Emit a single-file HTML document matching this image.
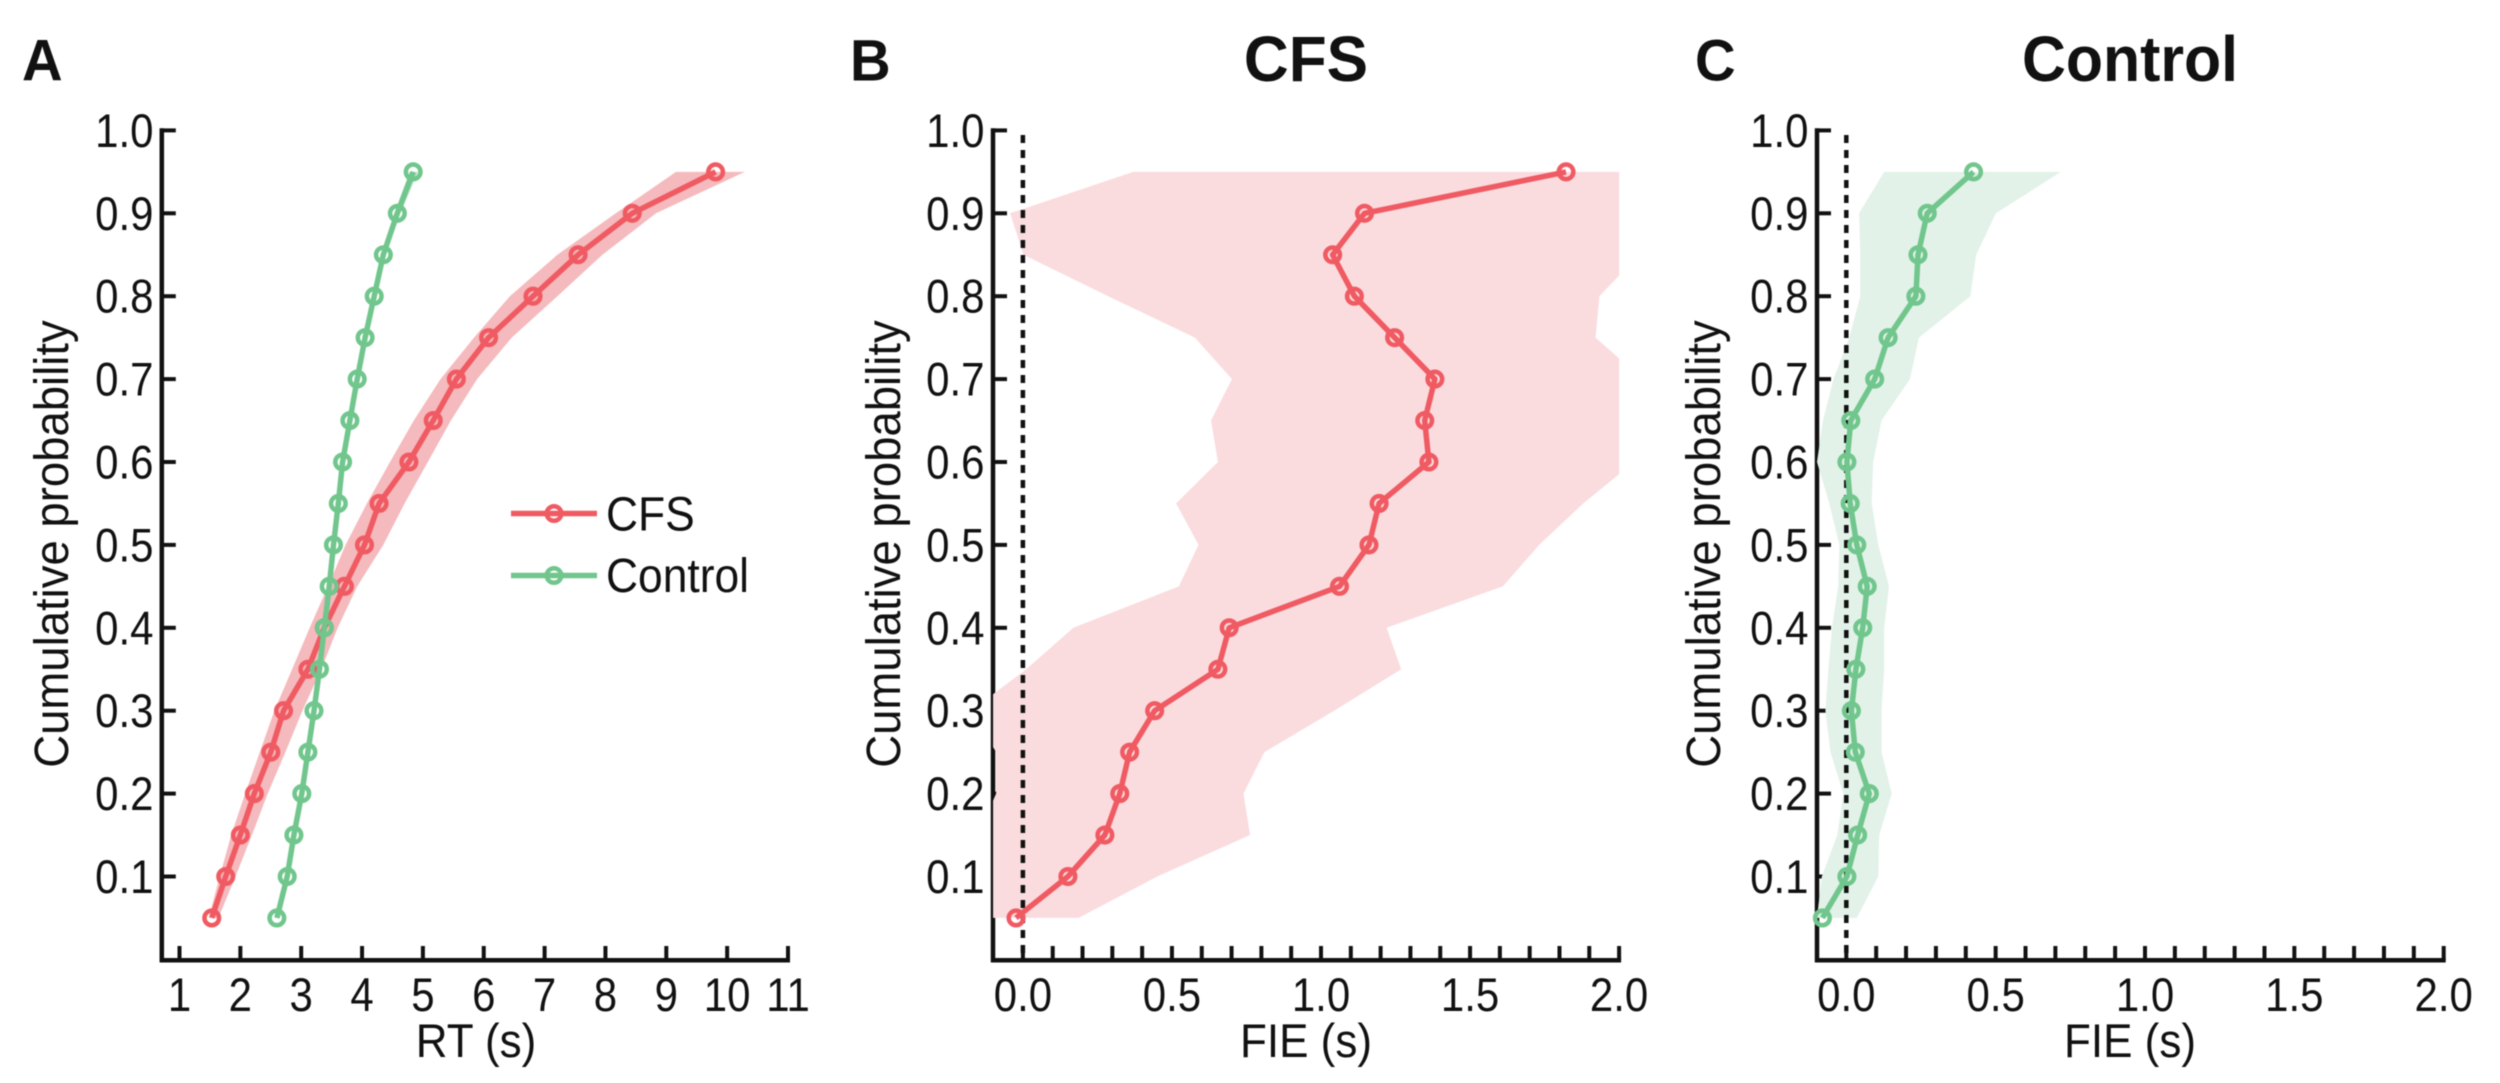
<!DOCTYPE html>
<html lang="en">
<head>
<meta charset="utf-8">
<title>Cumulative probability of RT and FIE</title>
<style>
html,body{margin:0;padding:0;background:#fff;width:2500px;height:1083px;overflow:hidden}
svg{display:block;filter:blur(0.6px)}
text{font-family:"Liberation Sans",sans-serif;fill:#111}
</style>
</head>
<body>
<svg id="figure" xmlns="http://www.w3.org/2000/svg" width="2500" height="1083" viewBox="0 0 2500 1083">
  <rect x="0" y="0" width="2500" height="1083" fill="#fff"/>
  <g font-size="58">
    <text transform="translate(22,80.4) scale(0.97,1)" style="font-weight:700">A</text>
    <text transform="translate(850,80.4) scale(0.97,1)" style="font-weight:700">B</text>
    <text transform="translate(1695,80.4) scale(0.97,1)" style="font-weight:700">C</text>
  </g>
  <text transform="translate(1306,81) scale(0.97,1)" text-anchor="middle" font-size="64" style="font-weight:700">CFS</text>
  <text transform="translate(2130,81) scale(0.95,1)" text-anchor="middle" font-size="64" style="font-weight:700">Control</text>

  <text transform="translate(68,544) rotate(-90) scale(0.948,1)" text-anchor="middle" font-size="48">Cumulative probability</text>
  <text transform="translate(900,544) rotate(-90) scale(0.948,1)" text-anchor="middle" font-size="48">Cumulative probability</text>
  <text transform="translate(1720,544) rotate(-90) scale(0.948,1)" text-anchor="middle" font-size="48">Cumulative probability</text>

  <text transform="translate(476,1057) scale(0.936,1)" text-anchor="middle" font-size="47">RT (s)</text>
  <text transform="translate(1306,1057) scale(0.936,1)" text-anchor="middle" font-size="47">FIE (s)</text>
  <text transform="translate(2130,1057) scale(0.936,1)" text-anchor="middle" font-size="47">FIE (s)</text>

  <g id="panel-a"></g>
  <g id="panel-b"></g>
  <g id="panel-c"></g>

  <g>
    <g>
      <line x1="511" y1="513.5" x2="597" y2="513.5" stroke="#f05a62" stroke-width="5.5"/>
      <circle cx="554" cy="513.5" r="7.3" fill="none" stroke="#f05a62" stroke-width="4.5"/>
      <text transform="translate(606,530.5) scale(0.915,1)" font-size="48.5">CFS</text>
    </g>
    <g>
      <line x1="511" y1="575.5" x2="597" y2="575.5" stroke="#70c68c" stroke-width="5.5"/>
      <circle cx="554" cy="575.5" r="7.3" fill="none" stroke="#70c68c" stroke-width="4.5"/>
      <text transform="translate(606,592) scale(0.915,1)" font-size="48.5">Control</text>
    </g>
  </g>
</svg>
<script>
// ---- Shared data ----
var probLevels = [0.05,0.10,0.15,0.20,0.25,0.30,0.35,0.40,0.45,0.50,0.55,0.60,0.65,0.70,0.75,0.80,0.85,0.90,0.95];
var yTickValues = [0.1,0.2,0.3,0.4,0.5,0.6,0.7,0.8,0.9,1.0];
var yTickLabels = ["0.1","0.2","0.3","0.4","0.5","0.6","0.7","0.8","0.9","1.0"];

// ---- Panel A: RT (s) ----
var rtTickValues = [1,2,3,4,5,6,7,8,9,10,11];
var rtTickLabels = ["1","2","3","4","5","6","7","8","9","10","11"];
var rtCfs        = [1.53,1.76,2.00,2.23,2.50,2.71,3.11,3.38,3.71,4.04,4.28,4.77,5.17,5.55,6.08,6.81,7.55,8.44,9.81];
var rtCfsLow     = [1.48,1.66,1.85,2.08,2.32,2.56,2.85,3.14,3.44,3.73,4.08,4.46,4.85,5.29,5.84,6.43,7.21,8.17,9.16];
var rtCfsHigh    = [1.64,1.92,2.19,2.45,2.74,3.02,3.33,3.60,3.92,4.35,4.70,5.08,5.46,5.89,6.46,7.21,7.95,8.83,10.29];
var rtControl     = [2.60,2.77,2.88,3.01,3.11,3.21,3.30,3.38,3.46,3.53,3.61,3.68,3.80,3.92,4.05,4.20,4.35,4.58,4.84];
var rtControlLow  = [2.57,2.73,2.84,2.97,3.07,3.17,3.26,3.34,3.42,3.49,3.57,3.64,3.76,3.88,4.01,4.16,4.31,4.53,4.78];
var rtControlHigh = [2.63,2.81,2.92,3.05,3.15,3.25,3.34,3.42,3.50,3.57,3.65,3.72,3.84,3.96,4.09,4.24,4.39,4.63,4.92];

// ---- Panels B and C: FIE (s) ----
var fieTickValues = [0,0.1,0.2,0.3,0.4,0.5,0.6,0.7,0.8,0.9,1.0,1.1,1.2,1.3,1.4,1.5,1.6,1.7,1.8,1.9,2.0];
var fieLabelValues = [0,0.5,1.0,1.5,2.0];
var fieLabels = ["0.0","0.5","1.0","1.5","2.0"];

var fieCfs     = [-0.023,0.151,0.275,0.325,0.358,0.442,0.654,0.692,1.062,1.161,1.195,1.362,1.348,1.382,1.247,1.112,1.039,1.146,1.822];
var fieCfsLow  = [-0.15,-0.15,-0.15,-0.09,-0.09,-0.174,0.011,0.169,0.523,0.589,0.514,0.654,0.631,0.701,0.577,0.286,0.002,-0.043,0.370];
var fieCfsHigh = [0.187,0.451,0.762,0.740,0.810,1.044,1.269,1.220,1.610,1.732,1.880,2.050,2.300,2.079,1.921,1.934,2.066,2.200,2.600];

var fieControl     = [-0.080,0.002,0.038,0.077,0.030,0.017,0.032,0.055,0.070,0.035,0.013,0.002,0.015,0.095,0.140,0.233,0.240,0.271,0.426];
var fieControlLow  = [-0.098,-0.082,-0.030,-0.010,-0.053,-0.070,-0.060,-0.048,-0.027,-0.023,-0.057,-0.098,-0.078,-0.043,0.010,0.047,0.047,0.043,0.127];
var fieControlHigh = [0.035,0.107,0.110,0.152,0.118,0.118,0.127,0.127,0.143,0.107,0.085,0.090,0.118,0.213,0.243,0.415,0.435,0.501,0.718];

// ---- Drawing helpers ----
var SVG_NS = "http://www.w3.org/2000/svg";
var RED = "#f05a62", GREEN = "#70c68c", INK = "#111";

function yScale(p) { return 130.4 + (1 - p) * 829; }
function linearX(origin, value0, perUnit) {
  return function (v) { return origin + (v - value0) * perUnit; };
}
function make(tag, attrs, parent) {
  var node = document.createElementNS(SVG_NS, tag);
  for (var k in attrs) node.setAttribute(k, attrs[k]);
  parent.appendChild(node);
  return node;
}
function drawAxes(parent, prefix, cfg, xScale, xTicks, xLabelValues, xLabels) {
  var g = make("g", {}, parent);
  
  
  var yLine = make("line", {x1: cfg.axisX, y1: 128.2, x2: cfg.axisX, y2: 962.2, stroke: INK, "stroke-width": 4.5}, g);
  
  
  var xLine = make("line", {x1: cfg.axisX - 2, y1: 960.2, x2: xScale(xTicks[xTicks.length - 1]) + 2, y2: 960.2, stroke: INK, "stroke-width": 4.5}, g);
  
  
  yTickValues.forEach(function (v, i) {
    var y = yScale(v);
    var tick = make("line", {x1: cfg.axisX, y1: y, x2: cfg.axisX + 14, y2: y, stroke: INK, "stroke-width": 4}, g);
    
    
    var label = make("text", {transform: "translate(" + cfg.labelRight + "," + (y + 16.5) + ") scale(0.893,1)", "text-anchor": "end", "font-size": 47}, g);
    label.textContent = yTickLabels[i];
    
    
  });
  xTicks.forEach(function (v) {
    var x = xScale(v);
    var tick = make("line", {x1: x, y1: 960, x2: x, y2: 946, stroke: INK, "stroke-width": 4}, g);
    
    
  });
  xLabelValues.forEach(function (v, i) {
    var label = make("text", {transform: "translate(" + xScale(v) + ",1011) scale(0.893,1)", "text-anchor": "middle", "font-size": 47}, g);
    label.textContent = xLabels[i];
    
    
  });
}
function drawBand(parent, name, low, high, xScale, color, clipId) {
  var pts = [];
  probLevels.forEach(function (p, i) { pts.push(xScale(low[i]).toFixed(1) + "," + yScale(p).toFixed(1)); });
  for (var i = probLevels.length - 1; i >= 0; i--) {
    pts.push(xScale(high[i]).toFixed(1) + "," + yScale(probLevels[i]).toFixed(1));
  }
  var poly = make("polygon", {points: pts.join(" "), fill: color}, parent);
  if (clipId) poly.setAttribute("clip-path", "url(#" + clipId + ")");
  
  
}
function drawSeries(parent, name, values, xScale, color) {
  var g = make("g", {}, parent);
  
  
  var pts = values.map(function (v, i) { return xScale(v).toFixed(1) + "," + yScale(probLevels[i]).toFixed(1); });
  var line = make("polyline", {points: pts.join(" "), fill: "none", stroke: color, "stroke-width": 5.5, "stroke-linejoin": "round"}, g);
  
  
  values.forEach(function (v, i) {
    var c = make("circle", {cx: xScale(v), cy: yScale(probLevels[i]), r: 7.3, fill: "none", stroke: color, "stroke-width": 4.5}, g);
    
    
  });
}
function drawZeroLine(parent, prefix, xScale) {
  var x = xScale(0);
  var z = make("line", {x1: x, y1: 135, x2: x, y2: 960, stroke: "#111", "stroke-width": 4.5, "stroke-dasharray": "8 7"}, parent);
  
  
}

// ---- Panel A ----
(function () {
  var root = document.getElementById("panel-a");
  var x = linearX(179.5, 1, 60.85);
  drawAxes(root, "panel-a", {axisX: 161.8, labelRight: 153.5}, x, rtTickValues, rtTickValues, rtTickLabels);
  drawBand(root, "rt-cfs-band", rtCfsLow, rtCfsHigh, x, "#f5babd");
  drawBand(root, "rt-control-band", rtControlLow, rtControlHigh, x, "#b9e3c6");
  drawSeries(root, "rt-cfs-series", rtCfs, x, RED);
  drawSeries(root, "rt-control-series", rtControl, x, GREEN);
})();

// ---- Panel B ----
(function () {
  var root = document.getElementById("panel-b");
  var x = linearX(1022.9, 0, 298.1);
  var defs = make("defs", {}, root);
  var clip = make("clipPath", {id: "clip-b"}, defs);
  make("rect", {x: x(-0.1), y: 100, width: x(2) - x(-0.1), height: 870}, clip);
  drawAxes(root, "panel-b", {axisX: 993, labelRight: 984.5}, x, fieTickValues, fieLabelValues, fieLabels);
  drawBand(root, "fie-cfs-band", fieCfsLow, fieCfsHigh, x, "#fadcdf", "clip-b");
  drawZeroLine(root, "panel-b", x);
  drawSeries(root, "fie-cfs-series", fieCfs, x, RED);
})();

// ---- Panel C ----
(function () {
  var root = document.getElementById("panel-c");
  var x = linearX(1846.3, 0, 298.7);
  drawAxes(root, "panel-c", {axisX: 1817, labelRight: 1808.5}, x, fieTickValues, fieLabelValues, fieLabels);
  drawBand(root, "fie-control-band", fieControlLow, fieControlHigh, x, "#e2f2e8");
  drawZeroLine(root, "panel-c", x);
  drawSeries(root, "fie-control-series", fieControl, x, GREEN);
})();
</script>
</body>
</html>
